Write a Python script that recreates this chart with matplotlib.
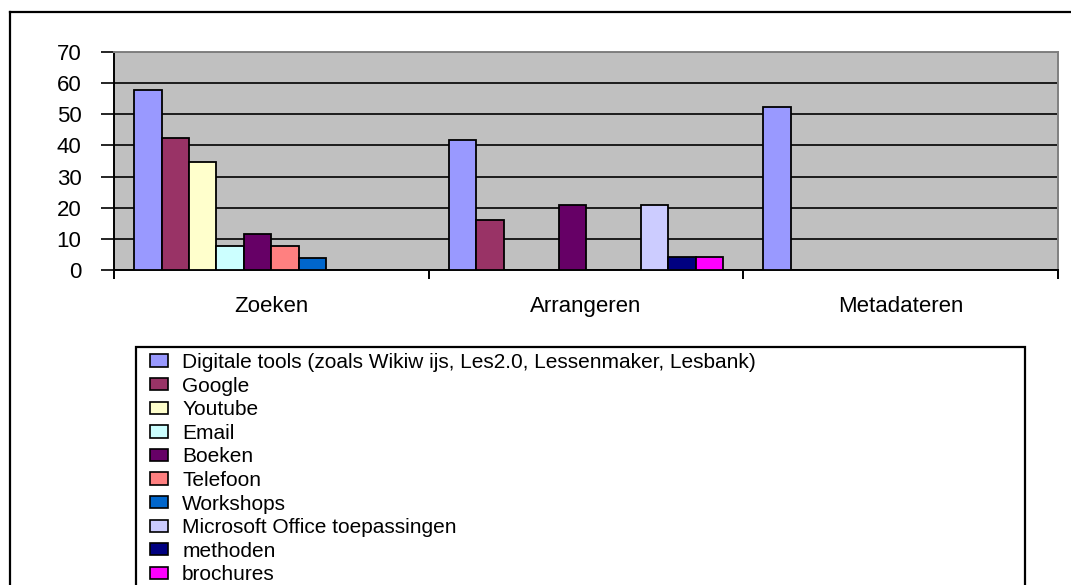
import numpy as np
import matplotlib
matplotlib.use('Agg')
import matplotlib.pyplot as plt
from matplotlib.patches import Patch, Rectangle
from matplotlib.lines import Line2D

plt.rcParams['font.family'] = ['Liberation Sans', 'DejaVu Sans']

# Data
categories = ['Zoeken', 'Arrangeren', 'Metadateren']
series_names = [
    'Digitale tools (zoals Wikiw ijs, Les2.0, Lessenmaker, Lesbank)',
    'Google', 'Youtube', 'Email', 'Boeken', 'Telefoon', 'Workshops',
    'Microsoft Office toepassingen', 'methoden', 'brochures',
]
series_colors = ['#9999FF', '#993366', '#FFFFCC', '#CCFFFF', '#660066',
                 '#FF8080', '#0066CC', '#CCCCFF', '#000080', '#FF00FF']
# rows = series, columns = categories (0 = no bar)
values = [
    [57.7, 41.7, 52.2],
    [42.3, 16.0, 0],
    [34.6, 0, 0],
    [7.7, 0, 0],
    [11.5, 20.8, 0],
    [7.7, 0, 0],
    [3.8, 0, 0],
    [0, 20.8, 0],
    [0, 4.2, 0],
    [0, 4.2, 0],
]
y_ticks = [0, 10, 20, 30, 40, 50, 60, 70]

W, H = 1071, 585
fig = plt.figure(figsize=(W / 100, H / 100), dpi=100)

# outer chart frame (clipped at right and bottom like the original)
fig.add_artist(Line2D([10 / W, 10 / W], [0, 1 - 12 / H], color='black', lw=1.6, transform=fig.transFigure))
fig.add_artist(Line2D([10 / W, 1], [1 - 12 / H, 1 - 12 / H], color='black', lw=1.6, transform=fig.transFigure))

ax = fig.add_axes([114 / W, 1 - 270 / H, (1058 - 114) / W, (270 - 52) / H])
ax.set_facecolor('#C0C0C0')

x = np.arange(len(categories))
n = len(series_names)
group = 0.872
bw = group / n
for i, (name, col) in enumerate(zip(series_names, series_colors)):
    vals = np.array(values[i], dtype=float)
    pos = x + (i - (n - 1) / 2) * bw
    mask = vals > 0
    ax.bar(pos[mask], vals[mask], width=bw, color=col, edgecolor='black', linewidth=1.3, zorder=3)

ax.set_xlim(-0.5, len(categories) - 0.5)
ax.set_ylim(0, 70)
ax.set_yticks(y_ticks)
ax.yaxis.grid(True, color='black', lw=1.2, zorder=1)
ax.set_axisbelow(True)
ax.tick_params(axis='y', direction='out', length=9.5, width=1.2, labelsize=16, pad=14)

ax.set_xticks(x)
ax.set_xticklabels(categories, fontsize=16)
ax.set_xticks(np.arange(-0.5, len(categories), 1.0), minor=True)
ax.tick_params(axis='x', which='major', length=0, pad=19)
ax.tick_params(axis='x', which='minor', direction='out', length=6.5, width=1.4)

ax.spines['left'].set_color('black')
ax.spines['left'].set_linewidth(1.4)
ax.spines['bottom'].set_color('black')
ax.spines['bottom'].set_linewidth(1.4)
ax.spines['top'].set_color('#808080')
ax.spines['top'].set_linewidth(1.4)
ax.spines['right'].set_color('#808080')
ax.spines['right'].set_linewidth(1.4)

# legend box, runs off the bottom of the picture
fig.add_artist(Rectangle((136 / W, -0.1), (1025 - 136) / W, 1 - 347 / H + 0.1,
                         transform=fig.transFigure, facecolor='none',
                         edgecolor='black', lw=1.6))
handles = [Patch(facecolor=c, edgecolor='black', linewidth=1.2) for c in series_colors]
leg = fig.legend(handles, series_names, loc='upper left',
                 bbox_to_anchor=(150 / W, 1 - 353 / H),
                 fontsize=15, frameon=False,
                 handlelength=0.87, handleheight=0.53,
                 handletextpad=0.67, labelspacing=0.22, borderpad=0,
                 borderaxespad=0)

fig.savefig('out.png', dpi=100)
